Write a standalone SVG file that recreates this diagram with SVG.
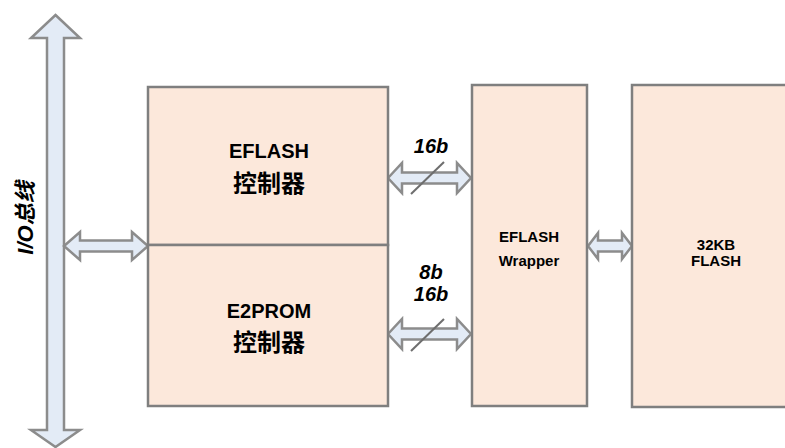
<svg xmlns="http://www.w3.org/2000/svg" width="785" height="448" viewBox="0 0 785 448">
<style>
.box{fill:#FCE8DB;stroke:#7F7F7F;stroke-width:2.5}
.arr{fill:#E3EBF6;stroke:#8C8C8C;stroke-width:2.5;stroke-linejoin:miter}
.t{font-family:"Liberation Sans","Noto Sans CJK SC",sans-serif;font-weight:bold;fill:#000;text-anchor:middle}
.cn{font-family:"Noto Sans CJK SC",sans-serif;font-weight:bold;fill:#000;text-anchor:middle}
.lbl{font-family:"Liberation Sans",sans-serif;font-weight:bold;font-style:italic;fill:#000;text-anchor:middle;font-size:20px}
.slash{stroke:#6E6E6E;stroke-width:2}
</style>
<rect width="785" height="448" fill="#fff"/>
<g id="connectors">
  <polygon class="arr" points="55.5,15 80,38 64,38 64,430 80,430 55.5,447 31,430 47,430 47,38 31,38"/>
  <polygon class="arr" points="64,246 80,232 80,240.5 132,240.5 132,232 148,246 132,260 132,251.5 80,251.5 80,260"/>
  <polygon class="arr" points="388,178 402,163 402,172.5 457,172.5 457,163 471,178 457,193 457,183.5 402,183.5 402,193"/>
  <line class="slash" x1="411" y1="194" x2="444" y2="162"/>
  <polygon class="arr" points="388,334 402,319 402,328.5 457,328.5 457,319 471,334 457,349 457,339.5 402,339.5 402,349"/>
  <line class="slash" x1="411" y1="351" x2="444" y2="319"/>
  <polygon class="arr" points="588,246 598,233 598,240.5 622,240.5 622,233 632,246 622,259 622,251.5 598,251.5 598,259"/>
</g>
<g id="bus-label">
  <text class="lbl" font-size="22" style="font-size:22px" transform="translate(33,218) rotate(-90)">I/O<tspan font-family="Noto Sans CJK SC,sans-serif" font-weight="bold">总线</tspan></text>
</g>
<g id="eflash-ctrl">
  <rect class="box" x="148" y="87" width="240" height="158"/>
  <text class="t" x="269" y="158" font-size="20">EFLASH</text>
  <text class="cn" x="269" y="192" font-size="24">控制器</text>
</g>
<g id="e2prom-ctrl">
  <rect class="box" x="148" y="245" width="240" height="161"/>
  <text class="t" x="269" y="318" font-size="20">E2PROM</text>
  <text class="cn" x="269" y="351" font-size="24">控制器</text>
</g>
<g id="wrapper">
  <rect class="box" x="472" y="85" width="115" height="321"/>
  <text class="t" x="529" y="242" font-size="15">EFLASH</text>
  <text class="t" x="529" y="266" font-size="15">Wrapper</text>
</g>
<g id="flash">
  <rect class="box" x="632" y="85" width="160" height="322"/>
  <text class="t" x="716" y="250" font-size="15">32KB</text>
  <text class="t" x="716" y="266" font-size="15">FLASH</text>
</g>
<g id="labels">
  <text class="lbl" x="431" y="153">16b</text>
  <text class="lbl" x="431" y="279">8b</text>
  <text class="lbl" x="431" y="301">16b</text>
</g>
</svg>
